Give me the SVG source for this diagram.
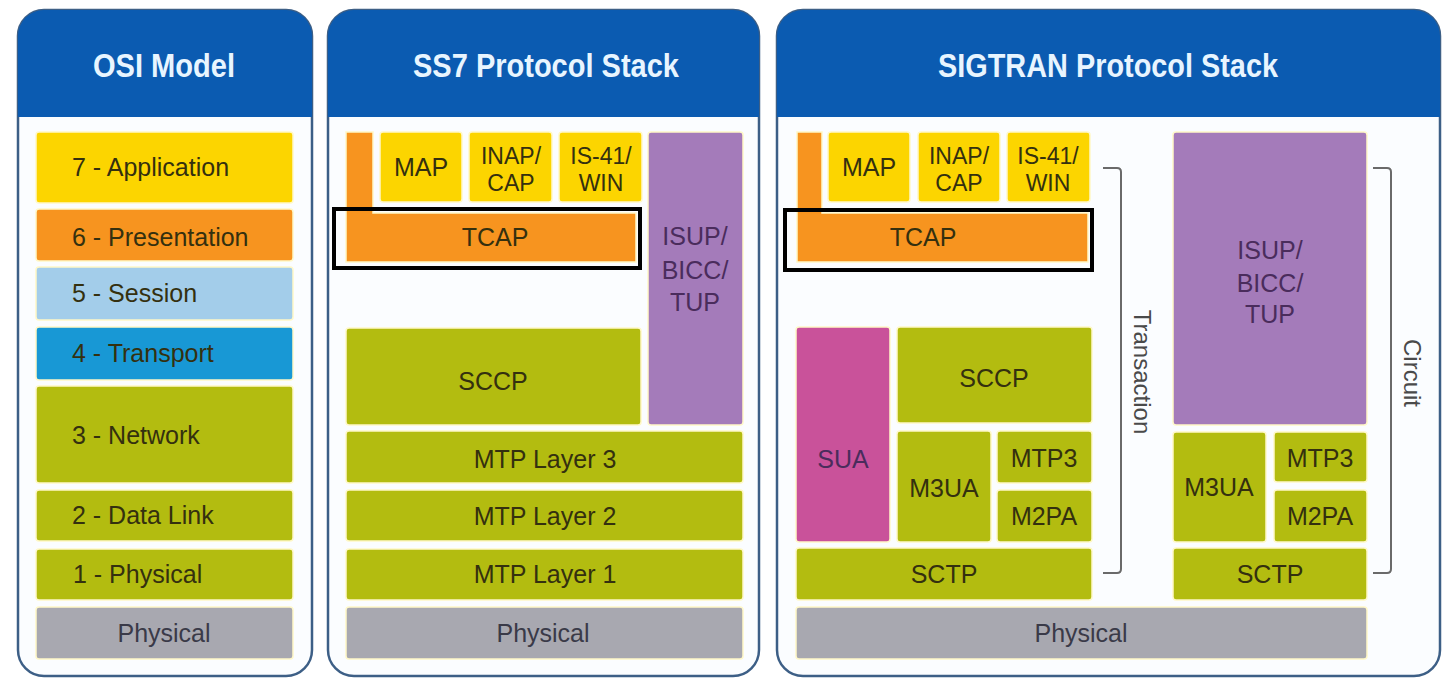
<svg xmlns="http://www.w3.org/2000/svg" width="1445" height="678" viewBox="0 0 1445 678">
<style>
.panel{fill:#fbfdff;stroke:#3d5f86;stroke-width:2.5}
.hdr{fill:#0b5bb1}
.ht{font-family:"Liberation Sans",Arial,sans-serif;font-weight:bold;font-size:34px;fill:#e8f5ff;text-anchor:middle}
.b{stroke:#fff8c8;stroke-width:1.5}
.y{fill:#fcd500}
.o{fill:#f7941f}
.g{fill:#b3bc10}
.p{fill:#a47bba}
.m{fill:#c9529a}
.gr{fill:#a8a8b0}
.lb{fill:#a3cdea}
.bl{fill:#1898d5}
.t{font-family:"Liberation Sans",Arial,sans-serif;font-size:25px;fill:#34300f;text-anchor:middle}
.t2{font-size:23px}
.tl{text-anchor:start}
.tp{fill:#4a2c5c}
.tg{fill:#3a3a48}
.hl{fill:none;stroke:#000;stroke-width:4}
.br{fill:none;stroke:#6a6a6a;stroke-width:2}
.bt{font-family:"Liberation Sans",Arial,sans-serif;font-size:24px;fill:#4a4a4a;text-anchor:middle}
</style>

<g id="panel-osi">
<rect class="panel" x="18" y="10" width="294" height="666" rx="26"/>
<path class="hdr" d="M18,117 V36 A26,26 0 0 1 44,10 H286 A26,26 0 0 1 312,36 V117 Z"/>
<text class="ht" x="164" y="77" textLength="142" lengthAdjust="spacingAndGlyphs">OSI Model</text>
</g>
<g id="panel-ss7">
<rect class="panel" x="328" y="10" width="431" height="666" rx="26"/>
<path class="hdr" d="M328,117 V36 A26,26 0 0 1 354,10 H733 A26,26 0 0 1 759,36 V117 Z"/>
<text class="ht" x="546" y="77" textLength="266" lengthAdjust="spacingAndGlyphs">SS7 Protocol Stack</text>
</g>
<g id="panel-sigtran">
<rect class="panel" x="777" y="10" width="663" height="666" rx="26"/>
<path class="hdr" d="M777,117 V36 A26,26 0 0 1 803,10 H1414 A26,26 0 0 1 1440,36 V117 Z"/>
<text class="ht" x="1108" y="77" textLength="340" lengthAdjust="spacingAndGlyphs">SIGTRAN Protocol Stack</text>
</g>

<!-- OSI layers -->
<g id="osi-7"><rect class="b y" x="36" y="132" width="257" height="71" rx="3"/><text class="t tl" x="72" y="176">7 - Application</text></g>
<g id="osi-6"><rect class="b o" x="36" y="209" width="257" height="52" rx="3"/><text class="t tl" x="72" y="246">6 - Presentation</text></g>
<g id="osi-5"><rect class="b lb" x="36" y="267" width="257" height="53" rx="3"/><text class="t tl" x="72" y="302">5 - Session</text></g>
<g id="osi-4"><rect class="b bl" x="36" y="327" width="257" height="53" rx="3"/><text class="t tl" x="72" y="362">4 - Transport</text></g>
<g id="osi-3"><rect class="b g" x="36" y="386" width="257" height="97" rx="3"/><text class="t tl" x="72" y="444">3 - Network</text></g>
<g id="osi-2"><rect class="b g" x="36" y="490" width="257" height="51" rx="3"/><text class="t tl" x="72" y="524">2 - Data Link</text></g>
<g id="osi-1"><rect class="b g" x="36" y="549" width="257" height="51" rx="3"/><text class="t tl" x="73" y="583">1 - Physical</text></g>
<g id="osi-phys"><rect class="b gr" x="36" y="607" width="257" height="52" rx="3"/><text class="t tg" x="164" y="642">Physical</text></g>

<!-- SS7 -->
<g id="ss7-tcap"><path class="b o" d="M346,132 H373 V213 H636 V262 H346 Z"/><text class="t" x="495" y="246">TCAP</text></g>
<g id="ss7-map"><rect class="b y" x="380" y="132" width="82" height="70" rx="3"/><text class="t" x="421" y="176">MAP</text></g>
<g id="ss7-inap"><rect class="b y" x="469" y="132" width="83" height="70" rx="3"/><text class="t t2" x="511" y="164">INAP/</text><text class="t t2" x="511" y="191">CAP</text></g>
<g id="ss7-is41"><rect class="b y" x="559" y="132" width="83" height="70" rx="3"/><text class="t t2" x="601" y="164">IS-41/</text><text class="t t2" x="601" y="191">WIN</text></g>
<g id="ss7-isup"><rect class="b p" x="648" y="132" width="95" height="293" rx="3"/><text class="t tp" x="695" y="245">ISUP/</text><text class="t tp" x="695" y="279">BICC/</text><text class="t tp" x="695" y="311">TUP</text></g>
<g id="ss7-sccp"><rect class="b g" x="346" y="328" width="295" height="97" rx="3"/><text class="t" x="493" y="390">SCCP</text></g>
<g id="ss7-mtp3"><rect class="b g" x="346" y="431" width="397" height="52" rx="3"/><text class="t" x="545" y="468">MTP Layer 3</text></g>
<g id="ss7-mtp2"><rect class="b g" x="346" y="490" width="397" height="51" rx="3"/><text class="t" x="545" y="525">MTP Layer 2</text></g>
<g id="ss7-mtp1"><rect class="b g" x="346" y="549" width="397" height="51" rx="3"/><text class="t" x="545" y="583">MTP Layer 1</text></g>
<g id="ss7-phys"><rect class="b gr" x="346" y="607" width="397" height="52" rx="3"/><text class="t tg" x="543" y="642">Physical</text></g>
<g id="ss7-highlight"><rect class="hl" x="334" y="209" width="306" height="59"/></g>

<!-- SIGTRAN -->
<g id="sig-tcap"><path class="b o" d="M797,132 H822 V213 H1088 V262 H797 Z"/><text class="t" x="923" y="246">TCAP</text></g>
<g id="sig-map"><rect class="b y" x="828" y="132" width="82" height="70" rx="3"/><text class="t" x="869" y="176">MAP</text></g>
<g id="sig-inap"><rect class="b y" x="918" y="132" width="82" height="70" rx="3"/><text class="t t2" x="959" y="164">INAP/</text><text class="t t2" x="959" y="191">CAP</text></g>
<g id="sig-is41"><rect class="b y" x="1007" y="132" width="83" height="70" rx="3"/><text class="t t2" x="1048" y="164">IS-41/</text><text class="t t2" x="1048" y="191">WIN</text></g>
<g id="sig-highlight"><rect class="hl" x="785" y="210" width="307" height="60"/></g>
<g id="sig-sua"><rect class="b m" x="796" y="327" width="94" height="215" rx="3"/><text class="t tp" x="843" y="468">SUA</text></g>
<g id="sig-sccp"><rect class="b g" x="897" y="327" width="195" height="96" rx="3"/><text class="t" x="994" y="387">SCCP</text></g>
<g id="sig-m3ua"><rect class="b g" x="897" y="431" width="94" height="111" rx="3"/><text class="t" x="944" y="497">M3UA</text></g>
<g id="sig-mtp3"><rect class="b g" x="997" y="431" width="95" height="52" rx="3"/><text class="t" x="1044" y="467">MTP3</text></g>
<g id="sig-m2pa"><rect class="b g" x="997" y="490" width="95" height="52" rx="3"/><text class="t" x="1044" y="525">M2PA</text></g>
<g id="sig-sctp"><rect class="b g" x="796" y="548" width="296" height="52" rx="3"/><text class="t" x="944" y="583">SCTP</text></g>
<g id="sig-isup"><rect class="b p" x="1173" y="132" width="194" height="293" rx="3"/><text class="t tp" x="1270" y="259">ISUP/</text><text class="t tp" x="1270" y="292">BICC/</text><text class="t tp" x="1270" y="323">TUP</text></g>
<g id="sig-m3ua2"><rect class="b g" x="1173" y="432" width="93" height="110" rx="3"/><text class="t" x="1219" y="496">M3UA</text></g>
<g id="sig-mtp3b"><rect class="b g" x="1274" y="432" width="93" height="50" rx="3"/><text class="t" x="1320" y="467">MTP3</text></g>
<g id="sig-m2pab"><rect class="b g" x="1274" y="490" width="93" height="52" rx="3"/><text class="t" x="1320" y="525">M2PA</text></g>
<g id="sig-sctp2"><rect class="b g" x="1173" y="548" width="194" height="52" rx="3"/><text class="t" x="1270" y="583">SCTP</text></g>
<g id="sig-phys"><rect class="b gr" x="796" y="607" width="571" height="52" rx="3"/><text class="t tg" x="1081" y="642">Physical</text></g>

<g id="connectors">
<path class="br" d="M1103,168 H1117 Q1121,168 1121,172 V569 Q1121,573 1117,573 H1103"/>
<path class="br" d="M1373,168 H1387 Q1391,168 1391,172 V569 Q1391,573 1387,573 H1373"/>
<text class="bt" transform="translate(1134,372) rotate(90)">Transaction</text>
<text class="bt" transform="translate(1404,373) rotate(90)">Circuit</text>
</g>
</svg>
